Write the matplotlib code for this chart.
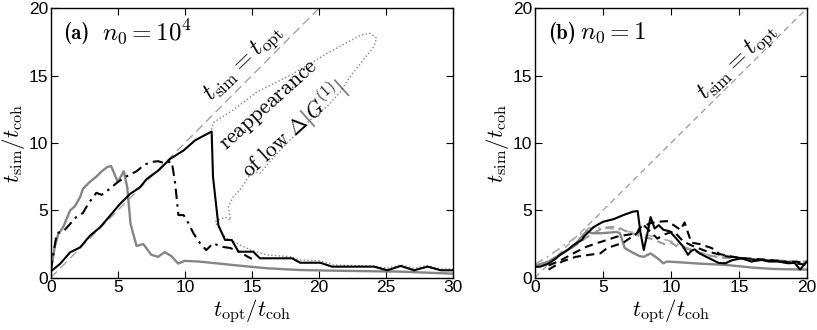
import matplotlib
matplotlib.use("Agg")
import matplotlib.pyplot as plt

plt.rcParams['font.family'] = ['Liberation Sans', 'DejaVu Sans']
plt.rcParams['mathtext.fontset'] = 'cm'

# ---------------- Panel (a) data ----------------
a_black_x = [0, 0.07, 0.69, 1.44, 2.19, 2.93, 3.68, 4.42, 5.17, 5.92, 6.66, 7.16, 8.03, 8.9, 9.9,
             10.77, 12.0, 12.1, 12.5, 13.0, 13.5, 14.0, 15.1, 15.6, 18.0, 18.6, 20.1, 20.97, 24.1,
             25.1, 26.1, 27.1, 28.1, 29.1, 30]
a_black_y = [0.5, 0.52, 1.02, 1.88, 2.25, 3.12, 3.74, 4.6, 5.48, 6.22, 6.72, 7.33, 7.96, 8.82, 9.44,
             10.2, 10.85, 7.5, 3.9, 2.8, 2.8, 1.93, 1.93, 1.44, 1.44, 1.11, 1.11, 0.82, 0.82,
             0.55, 0.87, 0.55, 0.82, 0.55, 0.55]

a_dashdot_x = [0, 0.2, 0.45, 1.0, 1.45, 1.9, 2.4, 2.8, 3.4, 3.8, 4.4, 5.0, 5.6, 6.4, 7.0, 7.6, 8.0,
               8.5, 8.9, 9.03, 9.28, 9.52, 9.9, 10.14, 10.64, 11.14, 11.6, 12.1, 12.75, 13.4, 14.1,
               14.7, 15.0]
a_dashdot_y = [0.5, 1.8, 3.3, 3.5, 4.0, 4.5, 4.8, 5.5, 6.3, 6.15, 6.6, 7.1, 7.5, 7.9, 8.4, 8.6, 8.65,
               8.5, 8.6, 8.6, 7.0, 4.65, 4.65, 4.3, 3.3, 2.55, 2.05, 2.55, 2.3, 2.2, 1.9,
               1.55, 1.4]

a_gray_x = [0, 0.3, 0.55, 0.95, 1.45, 1.8, 2.2, 2.4, 2.9, 3.4, 3.8, 4.2, 4.5, 5.0, 5.45, 5.7, 5.95,
            6.4, 6.9, 7.5, 8.0, 8.5, 9.0, 9.5, 10.0, 11.15, 13.6, 16.1, 18.6, 21.1, 26.1, 30]
a_gray_y = [0.5, 2.3, 3.2, 3.8, 5.0, 5.3, 6.0, 6.6, 7.1, 7.5, 7.9, 8.2, 8.3, 7.1, 7.9, 6.75, 4.0,
            2.35, 2.5, 1.7, 1.55, 1.9, 1.6, 1.05, 1.25, 1.19, 0.94, 0.7, 0.57, 0.52, 0.45, 0.3]

a_dot_x = [12.0, 12.1, 13.6, 15.4, 16.9, 17.9, 19.35, 20.6, 21.8, 23.1, 23.8, 24.3, 24.1, 23.1,
           22.3, 21.6, 20.6, 19.6, 18.6, 17.6, 16.9, 15.6, 15.0, 14.1, 13.6, 13.25, 13.4, 13.0,
           12.5, 12.26, 12.6, 13.1, 13.9, 14.9, 16.1, 17.9, 18.6, 20.1, 21.1, 24.1, 25.1, 26.1,
           27.1, 28.1, 29.1, 30]
a_dot_y = [11.0, 11.5, 12.45, 13.8, 14.55, 15.05, 15.9, 16.65, 17.3, 18.0, 18.15, 17.8, 17.15, 15.9,
           14.9, 13.8, 12.7, 11.95, 10.96, 9.98, 9.24, 7.75, 7.87, 6.5, 6.0, 5.27, 4.28, 4.5,
           4.28, 4.16, 3.54, 2.93, 2.55, 2.06, 1.69, 1.56, 1.31, 1.26, 0.94, 0.87, 0.7, 0.95,
           0.7, 0.9, 0.65, 0.65]

# ---------------- Panel (b) data ----------------
b_black_x = [0, 0.4, 1.0, 1.5, 1.85, 2.45, 2.8, 3.45, 3.6, 4.3, 5.0, 5.8, 6.5, 7.2, 7.55, 7.75, 8.0,
             8.25, 8.5, 8.8, 9.1, 9.45, 9.9, 10.4, 10.9, 11.25, 11.5, 11.75, 12.1, 12.8, 13.5, 14.0,
             14.5, 15.2, 15.9, 16.7, 17.2, 17.9, 18.6, 19.1, 19.5, 19.85, 20]
b_black_y = [0.8, 0.82, 1.05, 1.4, 1.7, 2.1, 2.4, 2.8, 3.05, 3.75, 4.15, 4.35, 4.65, 4.9, 4.95, 3.4,
             2.05, 3.2, 4.5, 3.65, 3.9, 3.55, 3.45, 2.9, 2.3, 1.7, 2.0, 2.1, 1.8, 1.45, 1.1, 1.07,
             1.3, 1.44, 1.2, 1.32, 1.2, 1.2, 1.07, 1.1, 0.6, 1.05, 1.2]

b_dash_x = [1.0, 2.0, 3.0, 3.8, 4.5, 5.3, 6.0, 6.7, 7.5, 7.7, 8.5, 9.0, 9.7, 10.2, 10.7, 11.0, 11.3,
            11.5, 12.1, 13.0, 13.6, 14.5, 15.4, 16.9, 18.0, 18.9, 20]
b_dash_y = [0.9, 1.35, 1.9, 2.3, 2.55, 2.8, 3.04, 3.17, 3.3, 3.7, 4.05, 4.15, 4.2, 3.9, 3.55, 4.1,
            3.2, 2.6, 2.5, 2.2, 1.75, 1.56, 1.44, 1.35, 1.25, 1.1, 0.95]

b_dash2_x = [1.0, 2.0, 3.0, 4.0, 4.8, 5.3, 6.5, 7.5, 8.0, 8.5, 9.0, 9.5, 10.2, 10.9, 11.5, 12.5,
             14.0, 16.0, 18.0, 20]
b_dash2_y = [0.6, 1.2, 1.55, 1.7, 1.8, 2.2, 2.6, 3.3, 3.9, 3.4, 2.9, 3.2, 3.45, 2.7, 2.4, 2.0,
             1.6, 1.35, 1.2, 1.15]

b_gray_x = [0, 1, 2, 2.8, 3.4, 3.8, 4.2, 4.8, 5.5, 6.0, 6.25, 6.6, 7.2, 7.7, 8.0, 8.5, 9.0, 9.45,
            9.7, 10.7, 12, 14, 15, 16, 17.5, 20]
b_gray_y = [0.85, 1.2, 1.8, 2.3, 3.0, 3.45, 3.3, 3.3, 3.35, 3.4, 3.3, 2.2, 1.85, 1.6, 1.55, 1.8,
            1.45, 1.07, 1.2, 1.14, 1.05, 0.95, 0.85, 0.75, 0.65, 0.6]

b_lgdashdot_x = [0, 1, 2, 3, 4, 5, 6, 7, 8, 9, 10, 11, 12, 13, 14, 15, 16, 18, 20]
b_lgdashdot_y = [1.0, 1.6, 2.3, 3.0, 3.7, 3.7, 3.6, 3.4, 3.2, 3.0, 2.7, 2.3, 1.9, 1.6, 1.45, 1.4,
                 1.3, 1.25, 1.1]

b_gdash_x = [0, 1, 2, 3, 3.8, 5, 6, 7, 8, 8.5, 9, 9.5, 10, 10.5, 11, 12, 13, 15, 17, 20]
b_gdash_y = [0.9, 1.2, 1.8, 2.4, 3.0, 3.7, 3.8, 3.3, 3.0, 2.9, 2.7, 2.5, 2.6, 2.3, 2.2, 1.9, 1.6,
             1.4, 1.3, 1.2]

a_xticks = [0, 5, 10, 15, 20, 25, 30]
b_xticks = [0, 5, 10, 15, 20]
yticks = [0, 5, 10, 15, 20]

fig = plt.figure(figsize=(8.17, 3.30), dpi=100)
ax_a = fig.add_axes([0.0621, 0.1585, 0.4924, 0.8164])
ax_b = fig.add_axes([0.6548, 0.1585, 0.3329, 0.8164])

diag_col = '#9a9a9a'
gray = '#858585'


def style(ax, xmax, xticks):
    ax.set_xlim(0, xmax)
    ax.set_ylim(0, 20)
    ax.set_xticks(xticks)
    ax.set_yticks(yticks)
    ax.tick_params(direction='in', length=5, width=0.8, top=True, right=True,
                   labelsize=12.5, pad=2, colors='black')
    for s in ax.spines.values():
        s.set_linewidth(1.0)
    ax.set_xlabel(r'$t_{\rm opt}/t_{\rm coh}$', fontsize=16.5, labelpad=2)
    ax.set_ylabel(r'$t_{\rm sim}/t_{\rm coh}$', fontsize=16.5, labelpad=1)


# Panel (a)
ax_a.plot([0, 30], [0, 30], color=diag_col, lw=0.9, dashes=(7, 4))
ax_a.plot(a_dot_x, a_dot_y, color=gray, lw=1.0, linestyle=':')
ax_a.plot(a_gray_x, a_gray_y, color=gray, lw=1.7)
ax_a.plot(a_dashdot_x, a_dashdot_y, color='black', lw=1.5, dashes=(5, 2.5, 1.2, 2.5))
ax_a.plot(a_black_x, a_black_y, color='black', lw=1.5)
style(ax_a, 30, a_xticks)
ax_a.text(0.9, 18.2, '(a)', fontfamily='cmb10', fontsize=15, va='center', ha='left')
ax_a.text(3.8, 18.2, r'$n_0 = 10^4$', fontsize=18, va='center', ha='left')
ax_a.text(14.4, 15.9, r'$t_{\rm sim} = t_{\rm opt}$', fontsize=18, rotation=44,
          ha='center', va='center', rotation_mode='anchor')
ax_a.text(16.3, 12.8, r'$\mathrm{reappearance}$', fontsize=15.5, rotation=42,
          ha='center', va='center', rotation_mode='anchor')
ax_a.text(18.1, 11.0, r'$\mathrm{of\ low}\ \Delta|G^{(1)}|$', fontsize=15.5, rotation=42,
          ha='center', va='center', rotation_mode='anchor')

# Panel (b)
ax_b.plot([0, 20], [0, 20], color=diag_col, lw=0.9, dashes=(5, 3.5))
ax_b.plot(b_lgdashdot_x, b_lgdashdot_y, color='#b0b0b0', lw=1.3, dashes=(5, 2.5, 1.2, 2.5))
ax_b.plot(b_gdash_x, b_gdash_y, color='#9a9a9a', lw=1.5, dashes=(4, 2.5))
ax_b.plot(b_gray_x, b_gray_y, color=gray, lw=1.7)
ax_b.plot(b_dash2_x, b_dash2_y, color='black', lw=1.5, dashes=(4, 2.5))
ax_b.plot(b_dash_x, b_dash_y, color='black', lw=1.5, dashes=(4, 2.5))
ax_b.plot(b_black_x, b_black_y, color='black', lw=1.5)
style(ax_b, 20, b_xticks)
ax_b.text(0.95, 18.2, '(b)', fontfamily='cmb10', fontsize=15, va='center', ha='left')
ax_b.text(3.3, 18.2, r'$n_0 = 1$', fontsize=18, va='center', ha='left')
ax_b.text(14.9, 16.0, r'$t_{\rm sim} = t_{\rm opt}$', fontsize=18, rotation=44,
          ha='center', va='center', rotation_mode='anchor')

fig.savefig('out.png', dpi=100)
